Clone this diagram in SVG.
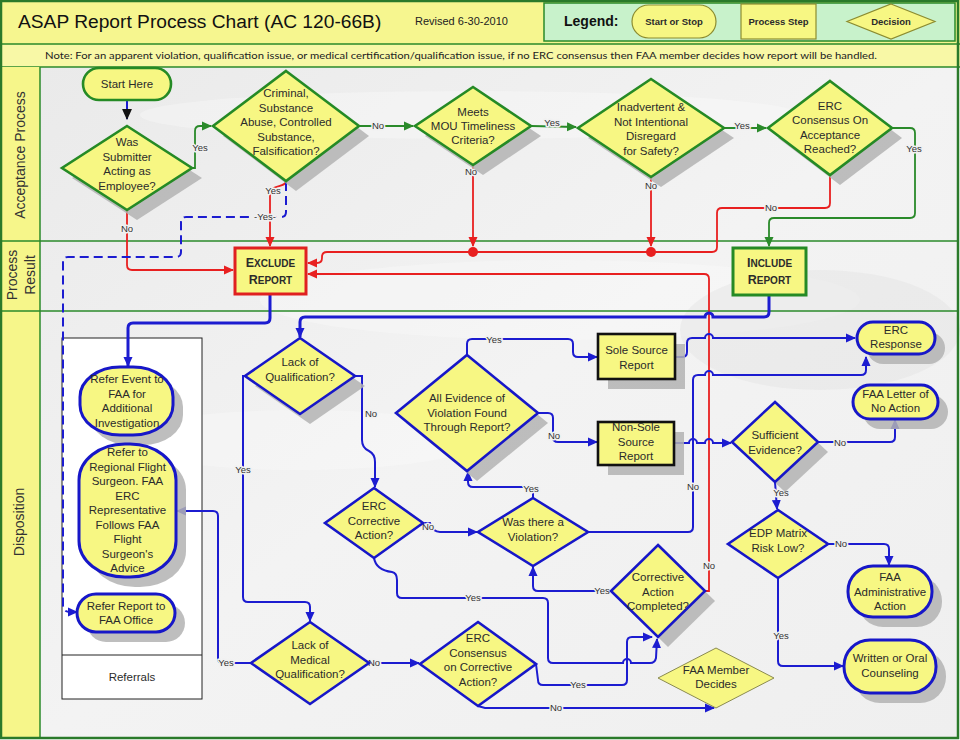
<svg xmlns="http://www.w3.org/2000/svg" width="960" height="740" viewBox="0 0 960 740">
<defs>
<style>
.t{font-family:"Liberation Sans",Arial,sans-serif;font-size:11.5px;fill:#2b2b2b;text-anchor:middle}
.lbl{font-family:"Liberation Sans",Arial,sans-serif;font-size:9.5px;fill:#333;text-anchor:middle;paint-order:stroke;stroke:#f1f1f1;stroke-width:3px;stroke-linejoin:round}
.lane{font-family:"Liberation Sans",Arial,sans-serif;font-size:14px;fill:#333;text-anchor:middle}
.sh{fill:#b3b3b3;opacity:.85}
.dg{fill:#f7f783;stroke:#258a25;stroke-width:2.6}
.db{fill:#f7f783;stroke:#1717c8;stroke-width:2.6}
.pb{fill:#f7f783;stroke:#1717c8;stroke-width:3}
.cb{fill:none;stroke:#1c1cd0;stroke-width:2}
.cb3{fill:none;stroke:#1c1cd0;stroke-width:3}
.cr{fill:none;stroke:#e82020;stroke-width:1.8}
.cg{fill:none;stroke:#2a8a2a;stroke-width:1.8}
.bt{font-family:"Liberation Sans",Arial,sans-serif;font-weight:bold;fill:#2b2b2b;text-anchor:middle}
</style>
<marker id="ab" viewBox="0 0 10 10" refX="9" refY="5" markerWidth="10" markerHeight="10" markerUnits="userSpaceOnUse" orient="auto"><path d="M0,0.5 L10,5 L0,9.5 z" fill="#1c1cd0"/></marker>
<marker id="ar" viewBox="0 0 10 10" refX="9" refY="5" markerWidth="10" markerHeight="10" markerUnits="userSpaceOnUse" orient="auto"><path d="M0,0.5 L10,5 L0,9.5 z" fill="#e82020"/></marker>
<marker id="ag" viewBox="0 0 10 10" refX="9" refY="5" markerWidth="10" markerHeight="10" markerUnits="userSpaceOnUse" orient="auto"><path d="M0,0.5 L10,5 L0,9.5 z" fill="#2a8a2a"/></marker>
<marker id="ak" viewBox="0 0 10 10" refX="9" refY="5" markerWidth="11" markerHeight="11" markerUnits="userSpaceOnUse" orient="auto"><path d="M0,0.5 L10,5 L0,9.5 z" fill="#111"/></marker>
<linearGradient id="bg" x1="0" y1="0" x2="1" y2="1"><stop offset="0" stop-color="#eaeaea"/><stop offset="0.5" stop-color="#f3f3f3"/><stop offset="1" stop-color="#efefef"/></linearGradient>
</defs>

<!-- background -->
<rect x="0" y="0" width="960" height="740" fill="#ffffff"/>
<rect x="40" y="67" width="918" height="671" fill="url(#bg)"/>
<ellipse cx="470" cy="115" rx="330" ry="24" fill="#fbfbfb" opacity=".35"/>
<ellipse cx="560" cy="300" rx="300" ry="40" fill="#fafafa" opacity=".4"/>
<ellipse cx="820" cy="330" rx="140" ry="60" fill="#e2e2e2" opacity=".4"/>
<ellipse cx="300" cy="440" rx="180" ry="30" fill="#fafafa" opacity=".4"/>

<!-- header -->
<rect x="0" y="0" width="960" height="44" fill="#f6f68f"/>
<rect x="0" y="44" width="960" height="23" fill="#f8f8a6"/>
<line x1="0" y1="44" x2="960" y2="44" stroke="#2a8a2a" stroke-width="1.5"/>
<line x1="0" y1="67" x2="960" y2="67" stroke="#2a8a2a" stroke-width="1.5"/>
<text x="18" y="27.5" font-family="Liberation Sans, Arial, sans-serif" font-size="19.2" fill="#111">ASAP Report Process Chart (AC 120-66B)</text>
<text x="415" y="25" font-family="Liberation Sans, Arial, sans-serif" font-size="11" fill="#222">Revised 6-30-2010</text>
<g id="legend">
<rect x="544" y="3" width="411" height="38" fill="#c8f2cb" stroke="#2a8a2a" stroke-width="1.5"/>
<text x="564" y="26" font-family="Liberation Sans, Arial, sans-serif" font-size="14" font-weight="bold" fill="#111">Legend:</text>
<rect x="632" y="5" width="84" height="33" rx="16.5" fill="#f7f783" stroke="#8c8c30" stroke-width="1.2"/>
<text x="674" y="24.5" class="bt" font-size="9.5">Start or Stop</text>
<rect x="741" y="4" width="75" height="35" fill="#f7f783" stroke="#8c8c30" stroke-width="1.2"/>
<text x="778.5" y="24.5" class="bt" font-size="9.5">Process Step</text>
<polygon points="891,4 935,21.5 891,39 847,21.5" fill="#f7f783" stroke="#8c8c30" stroke-width="1.2"/>
<text x="891" y="24.5" class="bt" font-size="9.5">Decision</text>
</g>
<text x="45" y="58.5" font-family="Lato, 'Open Sans', sans-serif" font-size="9.8" fill="#222" textLength="832" lengthAdjust="spacingAndGlyphs">Note: For an apparent violation, qualification issue, or medical certification/qualification issue, if no ERC consensus then FAA member decides how report will be handled.</text>

<!-- lanes -->
<rect x="0" y="67" width="40" height="671" fill="#f6f68a"/>
<line x1="40" y1="67" x2="40" y2="738" stroke="#2a8a2a" stroke-width="1.5"/>
<line x1="0" y1="241" x2="958" y2="241" stroke="#2a8a2a" stroke-width="1.3"/>
<line x1="0" y1="311" x2="958" y2="311" stroke="#2a8a2a" stroke-width="1.3"/>
<text class="lane" transform="translate(25,155) rotate(-90)">Acceptance Process</text>
<text class="lane" transform="translate(17,275) rotate(-90)">Process</text>
<text class="lane" transform="translate(35,275) rotate(-90)">Result</text>
<text class="lane" transform="translate(24,522) rotate(-90)">Disposition</text>
<rect x="1" y="1" width="957" height="737" fill="none" stroke="#2a7a2a" stroke-width="2.5"/>

<!-- referrals container -->
<g id="referrals">
<rect x="62" y="338" width="140" height="361" fill="#ffffff" stroke="#222" stroke-width="1"/>
<line x1="62" y1="655" x2="202" y2="655" stroke="#222" stroke-width="1"/>
<text x="132" y="681" class="t" font-size="12">Referrals</text>
</g>

<!-- connectors -->
<g id="connectors">
<path class="cb" d="M127,100 L127,119" stroke="#111" marker-end="url(#ak)"/>
<path class="cg" d="M192,168 L195,168 L195,131 Q195,126 200,126 L211,126" marker-end="url(#ag)"/>
<path class="cg" d="M359,126 L413,126" marker-end="url(#ag)"/>
<path class="cg" d="M531,126 L576,127" marker-end="url(#ag)"/>
<path class="cg" d="M724,128 L766,128" marker-end="url(#ag)"/>
<path class="cg" d="M892,128 L910,128 Q915,128 915,133 L915,213 Q915,218 910,218 L774,218 Q769,218 769,223 L769,246" marker-end="url(#ag)"/>
<path class="cr" stroke-width="2" d="M830,176 L830,203 Q830,208 825,208 L722,208 Q717,208 717,213 L717,247 Q717,252 712,252 L327,252 Q322,252 322,257 L322,258 Q322,263 317,263 L308,263" marker-end="url(#ar)"/>
<path class="cr" d="M473,165 L473,246" marker-end="url(#ar)"/>
<path class="cr" d="M651,177 L651,246" marker-end="url(#ar)"/>
<circle cx="473" cy="252" r="5" fill="#e82020"/>
<circle cx="651" cy="252" r="5" fill="#e82020"/>
<path class="cr" d="M127,210 L127,265 Q127,270 132,270 L233,270" marker-end="url(#ar)"/>
<path class="cr" d="M286,181 C286,188 270,184 270,194 L270,246" marker-end="url(#ar)"/>
<path class="cb" stroke-dasharray="9,5" d="M286,182 L286,212 Q286,217 281,217 L186,217 Q181,217 181,222 L181,252 Q181,257 176,257 L68,257 Q63,257 63,262 L63,605 Q63,612 70,612 L77,612" marker-end="url(#ab)"/>
<path class="cr" stroke-width="2" d="M705,591 L709,591 L709,279 Q709,274 704,274 L308,274" marker-end="url(#ar)"/>

<path class="cb3" d="M270,294 L270,318 Q270,323 265,323 L133,323 Q128,323 128,328 L128,366" marker-end="url(#ab)"/>
<path class="cb3" d="M769,295 L769,312 Q769,317 764,317 L713,317 A4,4 0 0 0 705,317 L305,317 Q300,317 300,322 L300,337" marker-end="url(#ab)"/>
<path class="cb" d="M355,376 L362,376 L362,440 Q362,448 369,451 Q375,454 375,462 L375,487" marker-end="url(#ab)"/>
<path class="cb" d="M245,376 L243,376 L243,597 Q243,602 248,602 L305,602 Q310,602 310,607 L310,621" marker-end="url(#ab)"/>
<path class="cb" d="M423,523 L430,523 Q433,532 440,532 L477,532" marker-end="url(#ab)"/>
<path class="cb" d="M533,498 L533,492 Q533,487 528,487 L473,487 Q468,487 468,482 L468,472" marker-end="url(#ab)"/>
<path class="cb" d="M588,532 L688,532 Q693,532 693,527 L693,380 Q693,375 698,375 L705,375 A4,4 0 0 1 713,375 L861,375 Q866,375 866,370 L866,357" marker-end="url(#ab)"/>
<path class="cb" d="M467,355 L467,344 Q467,339 472,339 L568,339 Q573,339 573,344 L573,352 Q573,357 578,357 L597,357" marker-end="url(#ab)"/>
<path class="cb" d="M538,413 L548,413 Q553,413 553,418 L553,437 Q553,442 558,442 L597,442" marker-end="url(#ab)"/>
<path class="cb" d="M675,357 L682,357 Q687,357 687,352 L687,343 Q687,338 692,338 L705,338 A4,4 0 0 1 713,338 L855,338" marker-end="url(#ab)"/>
<path class="cb" d="M675,443 L689,443 A4,4 0 0 1 697,443 L705,443 A4,4 0 0 1 713,443 L731,443" marker-end="url(#ab)"/>
<path class="cb" d="M818,442 L890,442 Q895,442 895,437 L895,420" marker-end="url(#ab)"/>
<path class="cb" d="M775,482 L777,509" marker-end="url(#ab)"/>
<path class="cb" d="M828,544 L884,544 Q889,544 889,549 L889,565" marker-end="url(#ab)"/>
<path class="cb" d="M778,578 L778,661 Q778,666 783,666 L843,666" marker-end="url(#ab)"/>
<path class="cb" d="M611,591 L538,591 Q533,591 533,586 L533,567" marker-end="url(#ab)"/>
<path class="cb" d="M374,558 Q376,570 392,572 Q397,573 397,580 L397,593 Q397,598 402,598 L543,598 Q548,598 548,603 L548,658 Q548,663 553,663 L623,663 A4,4 0 0 1 631,663 L650,663 Q655,663 656,658 L657,639" marker-end="url(#ab)"/>
<path class="cb" d="M536,664 L538,680 Q538,685 543,685 L622,685 Q627,685 627,680 L627,642 Q627,637 632,637 L652,637" marker-end="url(#ab)"/>
<path class="cb" d="M478,706 L485,708 L714,708" marker-end="url(#ab)"/>
<path class="cb" d="M369,663 L419,663" marker-end="url(#ab)"/>
<path class="cb" d="M251,663 L223,663 Q218,663 218,658 L218,516 Q218,511 213,511 L177,511" marker-end="url(#ab)"/>

<text class="lbl" x="200" y="151">Yes</text>
<text class="lbl" x="378" y="129">No</text>
<text class="lbl" x="552" y="126">Yes</text>
<text class="lbl" x="742" y="129">Yes</text>
<text class="lbl" x="914" y="152">Yes</text>
<text class="lbl" x="771" y="211">No</text>
<text class="lbl" x="471" y="175">No</text>
<text class="lbl" x="651" y="189">No</text>
<text class="lbl" x="127" y="232">No</text>
<text class="lbl" x="273" y="194">Yes</text>
<text class="lbl" x="265" y="220">-Yes-</text>
<text class="lbl" x="709" y="569">No</text>
<text class="lbl" x="371" y="417">No</text>
<text class="lbl" x="243" y="473">Yes</text>
<text class="lbl" x="428" y="530">No</text>
<text class="lbl" x="531" y="492">Yes</text>
<text class="lbl" x="693" y="490">No</text>
<text class="lbl" x="494" y="343">Yes</text>
<text class="lbl" x="554" y="439">No</text>
<text class="lbl" x="840" y="446">No</text>
<text class="lbl" x="781" y="496">Yes</text>
<text class="lbl" x="841" y="547">No</text>
<text class="lbl" x="781" y="639">Yes</text>
<text class="lbl" x="602" y="594">Yes</text>
<text class="lbl" x="473" y="601">Yes</text>
<text class="lbl" x="578" y="688">Yes</text>
<text class="lbl" x="556" y="711">No</text>
<text class="lbl" x="374" y="666">No</text>
<text class="lbl" x="226" y="666">Yes</text>
</g>

<!-- acceptance nodes -->
<g id="start">
<rect x="83" y="68" width="88" height="32" rx="16" fill="#f7f783" stroke="#258a25" stroke-width="2.6"/>
<text x="127" y="88" class="t" font-size="12">Start Here</text>
</g>
<g id="was-submitter">
<polygon class="sh" points="137,136 202,178 137,220 72,178"/>
<polygon class="dg" points="127,126 192,168 127,210 62,168"/>
<text class="t" x="127" y="146">Was</text>
<text class="t" x="127" y="160.5">Submitter</text>
<text class="t" x="127" y="175">Acting as</text>
<text class="t" x="127" y="189.5">Employee?</text>
</g>
<g id="criminal">
<polygon class="sh" points="296,81 369,136 296,191 223,136"/>
<polygon class="dg" points="286,71 359,126 286,181 213,126"/>
<text class="t" x="286" y="97">Criminal,</text>
<text class="t" x="286" y="111.5">Substance</text>
<text class="t" x="286" y="126">Abuse, Controlled</text>
<text class="t" x="286" y="140.5">Substance,</text>
<text class="t" x="286" y="155">Falsification?</text>
</g>
<g id="mou">
<polygon class="sh" points="483,97 541,136 483,175 425,136"/>
<polygon class="dg" points="473,87 531,126 473,165 415,126"/>
<text class="t" x="473" y="116">Meets</text>
<text class="t" x="473" y="130">MOU Timeliness</text>
<text class="t" x="473" y="144">Criteria?</text>
</g>
<g id="inadvertent">
<polygon class="sh" points="661,89 734,138 661,187 588,138"/>
<polygon class="dg" points="651,79 724,128 651,177 578,128"/>
<text class="t" x="651" y="111">Inadvertent &amp;</text>
<text class="t" x="651" y="125.5">Not Intentional</text>
<text class="t" x="651" y="140">Disregard</text>
<text class="t" x="651" y="154.5">for Safety?</text>
</g>
<g id="erc-acceptance">
<polygon class="sh" points="840,91 902,138 840,185 778,138"/>
<polygon class="dg" points="830,81 892,128 830,175 768,128"/>
<text class="t" x="830" y="110">ERC</text>
<text class="t" x="830" y="124">Consensus On</text>
<text class="t" x="830" y="138.5">Acceptance</text>
<text class="t" x="830" y="152.5">Reached?</text>
</g>

<!-- result nodes -->
<g id="exclude">
<rect x="235" y="248" width="71" height="46" fill="#f7f783" stroke="#e02020" stroke-width="3"/>
<text class="bt" x="270.5" y="267"><tspan font-size="12.5">E</tspan><tspan font-size="10">XCLUDE</tspan></text>
<text class="bt" x="270.5" y="284"><tspan font-size="12.5">R</tspan><tspan font-size="10">EPORT</tspan></text>
</g>
<g id="include">
<rect x="733" y="248" width="73" height="47" fill="#f7f783" stroke="#258a25" stroke-width="3"/>
<text class="bt" x="769.5" y="267"><tspan font-size="12.5">I</tspan><tspan font-size="10">NCLUDE</tspan></text>
<text class="bt" x="769.5" y="284"><tspan font-size="12.5">R</tspan><tspan font-size="10">EPORT</tspan></text>
</g>

<!-- disposition nodes -->
<g id="refer-event">
<rect class="sh" x="90" y="377" width="93" height="68" rx="40" ry="30"/>
<rect class="pb" x="80" y="367" width="93" height="68" rx="40" ry="30"/>
<text class="t" x="127" y="383">Refer Event to</text>
<text class="t" x="127" y="397.5">FAA for</text>
<text class="t" x="127" y="412">Additional</text>
<text class="t" x="127" y="426.5">Investigation</text>
</g>
<g id="refer-surgeon">
<rect class="sh" x="89" y="454" width="97" height="133" rx="46" ry="36"/>
<rect class="pb" x="79" y="444" width="97" height="133" rx="46" ry="36"/>
<text class="t" x="127.5" y="456">Refer to</text>
<text class="t" x="127.5" y="470.5">Regional Flight</text>
<text class="t" x="127.5" y="485">Surgeon. FAA</text>
<text class="t" x="127.5" y="499.5">ERC</text>
<text class="t" x="127.5" y="514">Representative</text>
<text class="t" x="127.5" y="528.5">Follows FAA</text>
<text class="t" x="127.5" y="543">Flight</text>
<text class="t" x="127.5" y="557.5">Surgeon's</text>
<text class="t" x="127.5" y="572">Advice</text>
</g>
<g id="refer-report">
<rect class="sh" x="87" y="604" width="98" height="38" rx="19"/>
<rect class="pb" x="77" y="594" width="98" height="38" rx="19"/>
<text class="t" x="126" y="610">Refer Report to</text>
<text class="t" x="126" y="624">FAA Office</text>
</g>
<g id="lack-qual">
<polygon class="sh" points="310,348 365,386 310,424 255,386"/>
<polygon class="db" points="300,338 355,376 300,414 245,376"/>
<text class="t" x="300" y="366">Lack of</text>
<text class="t" x="300" y="381">Qualification?</text>
</g>
<g id="all-evidence">
<polygon class="sh" points="477,365 548,423 477,481 406,423"/>
<polygon class="db" points="467,355 538,413 467,471 396,413"/>
<text class="t" x="467" y="402">All Evidence of</text>
<text class="t" x="467" y="416.5">Violation Found</text>
<text class="t" x="467" y="431">Through Report?</text>
</g>
<g id="sole-source">
<rect class="sh" x="608" y="344" width="77" height="45"/>
<rect x="598" y="334" width="77" height="45" fill="#f7f783" stroke="#111" stroke-width="2.6"/>
<text class="t" x="636.5" y="354">Sole Source</text>
<text class="t" x="636.5" y="368.5">Report</text>
</g>
<g id="non-sole">
<rect class="sh" x="608" y="432" width="76" height="43"/>
<rect x="598" y="422" width="76" height="43" fill="#f7f783" stroke="#111" stroke-width="2.6"/>
<text class="t" x="636" y="431">Non-Sole</text>
<text class="t" x="636" y="445.5">Source</text>
<text class="t" x="636" y="460">Report</text>
</g>
<g id="erc-response">
<rect class="sh" x="867" y="332" width="78" height="32" rx="16"/>
<rect class="pb" x="857" y="322" width="78" height="32" rx="16"/>
<text class="t" x="896" y="334">ERC</text>
<text class="t" x="896" y="348">Response</text>
</g>
<g id="faa-letter">
<rect class="sh" x="863" y="395" width="85" height="34" rx="17"/>
<rect class="pb" x="853" y="385" width="85" height="34" rx="17"/>
<text class="t" x="895.5" y="398">FAA Letter of</text>
<text class="t" x="895.5" y="412">No Action</text>
</g>
<g id="sufficient">
<polygon class="sh" points="785,412 828,452 785,492 742,452"/>
<polygon class="db" points="775,402 818,442 775,482 732,442"/>
<text class="t" x="775" y="439">Sufficient</text>
<text class="t" x="775" y="453.5">Evidence?</text>
</g>
<g id="erc-corrective">
<polygon class="db" points="374,488 423,523 374,558 325,523"/>
<text class="t" x="374" y="510">ERC</text>
<text class="t" x="374" y="524.5">Corrective</text>
<text class="t" x="374" y="539">Action?</text>
</g>
<g id="was-violation">
<polygon class="db" points="533,498 588,532 533,566 478,532"/>
<text class="t" x="533" y="526">Was there a</text>
<text class="t" x="533" y="540.5">Violation?</text>
</g>
<g id="edp">
<polygon class="db" points="778,510 828,544 778,578 728,544"/>
<text class="t" x="778" y="537">EDP Matrix</text>
<text class="t" x="778" y="551.5">Risk Low?</text>
</g>
<g id="corrective-completed">
<polygon class="sh" points="668,555 715,601 668,647 621,601"/>
<polygon class="db" points="658,545 705,591 658,637 611,591"/>
<text class="t" x="658" y="581">Corrective</text>
<text class="t" x="658" y="595.5">Action</text>
<text class="t" x="658" y="610">Completed?</text>
</g>
<g id="faa-admin">
<rect class="sh" x="858" y="576" width="84" height="51" rx="25"/>
<rect class="pb" x="848" y="566" width="84" height="51" rx="25"/>
<text class="t" x="890" y="581">FAA</text>
<text class="t" x="890" y="595.5">Administrative</text>
<text class="t" x="890" y="610">Action</text>
</g>
<g id="written">
<rect class="sh" x="854" y="650" width="92" height="53" rx="26"/>
<rect class="pb" x="844" y="640" width="92" height="53" rx="26"/>
<text class="t" x="890" y="662">Written or Oral</text>
<text class="t" x="890" y="677">Counseling</text>
</g>
<g id="lack-medical">
<polygon class="db" points="310,622 369,663 310,704 251,663"/>
<text class="t" x="310" y="649">Lack of</text>
<text class="t" x="310" y="664">Medical</text>
<text class="t" x="310" y="678">Qualification?</text>
</g>
<g id="erc-consensus">
<polygon class="db" points="478,622 536,664 478,706 420,664"/>
<text class="t" x="478" y="642">ERC</text>
<text class="t" x="478" y="656.5">Consensus</text>
<text class="t" x="478" y="671">on Corrective</text>
<text class="t" x="478" y="685.5">Action?</text>
</g>
<g id="faa-member">
<polygon points="716,648 774,678 716,708 658,678" fill="#f7f783" stroke="#8a8a50" stroke-width="1"/>
<text class="t" x="716" y="674">FAA Member</text>
<text class="t" x="716" y="688">Decides</text>
</g>
</svg>
